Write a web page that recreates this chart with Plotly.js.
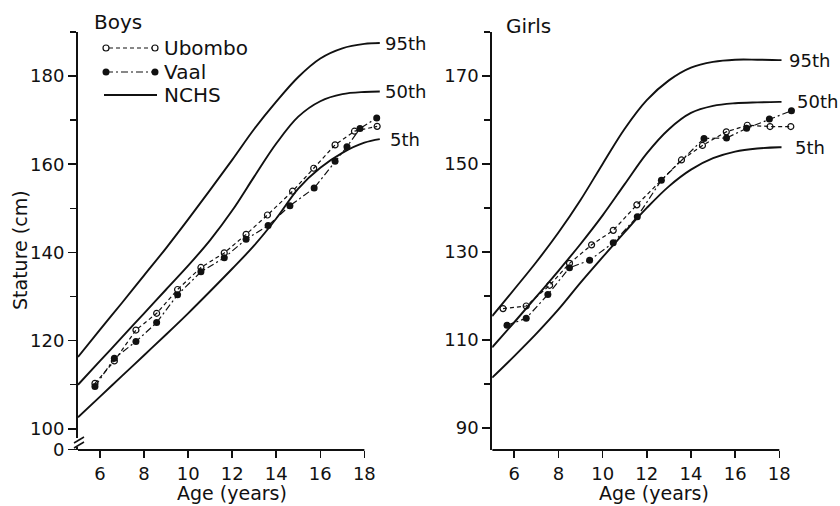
<!DOCTYPE html>
<html>
<head>
<meta charset="utf-8">
<script src="https://cdn.plot.ly/plotly-3.0.1.min.js"></script>
<style>
  html, body { margin: 0; padding: 0; background: #fff; }
  #chart { width: 840px; height: 506px; }
</style>
</head>
<body>
<div id="chart"></div>
<script>
// NCHS reference percentiles (stature, cm) by age (years)
const nchsBoysAge = [5, 6, 7, 8, 9, 10, 11, 12, 13, 14, 15, 16, 17, 18, 18.7];
const nchsBoys95 = [116.3, 122.5, 128.6, 134.8, 141.0, 147.5, 154.2, 161.0, 168.0, 174.2, 179.8, 184.0, 186.3, 187.3, 187.5];
const nchsBoys50 = [110.0, 115.4, 120.8, 126.2, 131.6, 137.0, 142.8, 149.5, 157.2, 164.7, 170.8, 174.3, 175.9, 176.4, 176.5];
const nchsBoys5 = [102.6, 107.3, 112.0, 116.7, 121.4, 126.2, 131.2, 136.3, 141.6, 147.7, 154.5, 159.2, 162.6, 164.9, 165.7];

const nchsGirlsAge = [5, 6, 7, 8, 9, 10, 11, 12, 13, 14, 15, 16, 17, 18, 18.1];
const nchsGirls95 = [115.4, 121.5, 127.7, 134.4, 141.8, 150.0, 158.0, 164.5, 169.0, 171.9, 173.2, 173.7, 173.7, 173.6, 173.6];
const nchsGirls50 = [108.3, 114.0, 119.8, 125.7, 131.8, 138.3, 145.4, 152.4, 157.9, 161.6, 163.2, 163.8, 164.0, 164.1, 164.1];
const nchsGirls5 = [101.4, 106.3, 111.4, 116.9, 123.0, 128.8, 134.5, 140.0, 144.9, 148.7, 151.3, 152.8, 153.5, 153.8, 153.8];

// Survey means: Ubombo and Vaal
const ubomboBoysAge = [5.77, 6.65, 7.63, 8.57, 9.52, 10.58, 11.64, 12.63, 13.6, 14.74, 15.7, 16.67, 17.55, 18.58];
const ubomboBoys = [110.3, 115.4, 122.4, 126.2, 131.6, 136.6, 139.9, 144.1, 148.5, 153.9, 159.1, 164.4, 167.5, 168.6];
const vaalBoysAge = [5.77, 6.65, 7.63, 8.57, 9.52, 10.58, 11.64, 12.63, 13.63, 14.62, 15.72, 16.67, 17.21, 17.8, 18.56];
const vaalBoys = [109.6, 116.0, 119.8, 124.1, 130.4, 135.6, 138.8, 143.0, 146.1, 150.6, 154.6, 160.7, 164.0, 168.1, 170.5];

const ubomboGirlsAge = [5.49, 6.54, 7.6, 8.5, 9.5, 10.48, 11.55, 13.57, 14.52, 15.6, 16.55, 17.58, 18.52];
const ubomboGirls = [117.1, 117.7, 122.4, 127.4, 131.6, 134.9, 140.7, 150.9, 154.2, 157.3, 158.8, 158.5, 158.5];
const vaalGirlsAge = [5.67, 6.54, 7.52, 8.5, 9.41, 10.48, 11.57, 12.66, 14.59, 15.61, 16.52, 17.55, 18.55];
const vaalGirls = [113.3, 114.9, 120.3, 126.4, 128.1, 132.1, 138.0, 146.3, 155.8, 155.9, 158.1, 160.2, 162.1];

const percentileLabels = ['95th', '50th', '5th'];
const ageTicks = [6, 8, 10, 12, 14, 16, 18];
const boysTicks = [95.3, 100, 120, 140, 160, 180];
const boysTickText = ['0', '100', '120', '140', '160', '180'];
const girlsTicks = [90, 110, 130, 150, 170];

const W = 840, H = 506;
const FONT = 'DejaVu Sans, Arial, sans-serif';
const px = v => v / W;
const py = v => 1 - v / H;

function nchs(x, y, xa, ya) {
  return { x: x, y: y, xaxis: xa, yaxis: ya, mode: 'lines', showlegend: false,
    hoverinfo: 'skip', line: { color: '#111', width: 1.9, shape: 'spline', smoothing: 1 } };
}
function ubombo(x, y, xa, ya) {
  return { x: x, y: y, xaxis: xa, yaxis: ya, mode: 'lines+markers', showlegend: false,
    line: { color: '#111', width: 1.2, dash: '4px,3px' },
    marker: { symbol: 'circle-open', size: 6, color: '#111', line: { width: 1.2 } } };
}
function vaal(x, y, xa, ya) {
  return { x: x, y: y, xaxis: xa, yaxis: ya, mode: 'lines+markers', showlegend: false,
    line: { color: '#111', width: 1.2, dash: '7px,3px,2px,3px' },
    marker: { symbol: 'circle', size: 7, color: '#111' } };
}

const data = [
  nchs(nchsBoysAge, nchsBoys95, 'x', 'y'),
  nchs(nchsBoysAge, nchsBoys50, 'x', 'y'),
  nchs(nchsBoysAge, nchsBoys5, 'x', 'y'),
  ubombo(ubomboBoysAge, ubomboBoys, 'x', 'y'),
  vaal(vaalBoysAge, vaalBoys, 'x', 'y'),
  nchs(nchsGirlsAge, nchsGirls95, 'x2', 'y2'),
  nchs(nchsGirlsAge, nchsGirls50, 'x2', 'y2'),
  nchs(nchsGirlsAge, nchsGirls5, 'x2', 'y2'),
  ubombo(ubomboGirlsAge, ubomboGirls, 'x2', 'y2'),
  vaal(vaalGirlsAge, vaalGirls, 'x2', 'y2')
];

const tickFont = { family: FONT, size: 18, color: '#111' };
function xAxis(dom, anchor) {
  return { domain: dom, anchor: anchor, range: [5, 19], tickmode: 'array', tickvals: ageTicks,
    ticks: 'outside', ticklen: 7, tickwidth: 1.6, tickcolor: '#111', showline: false,
    showgrid: false, zeroline: false, tickfont: tickFont, automargin: false, fixedrange: true };
}
function yAxis(range, vals, text, anchor) {
  return { domain: [py(450), py(32)], anchor: anchor, range: range, tickmode: 'array',
    tickvals: vals, ticktext: text, ticks: 'outside', ticklen: 8, tickwidth: 1.6, tickcolor: '#111',
    minor: { dtick: 10, tick0: 0, ticks: 'outside', ticklen: 6, tickwidth: 1.4, tickcolor: '#111' },
    showline: true, linewidth: 2, linecolor: '#111', showgrid: false, zeroline: false,
    tickfont: tickFont, automargin: false, fixedrange: true };
}

const ann = [];
function label(text, x, y, opts) {
  ann.push(Object.assign({ text: text, x: x, y: y, xref: 'paper', yref: 'paper', showarrow: false,
    xanchor: 'left', yanchor: 'middle', font: { family: FONT, size: 20, color: '#111' } }, opts || {}));
}
label('Boys', px(92), py(22));
label('Girls', px(504), py(26));
label('Stature (cm)', px(20), py(250), { xanchor: 'center', textangle: -90, font: { family: FONT, size: 19, color: '#111' } });
label('Age (years)', px(232), py(493), { xanchor: 'center', font: { family: FONT, size: 19, color: '#111' } });
label('Age (years)', px(654), py(493), { xanchor: 'center', font: { family: FONT, size: 19, color: '#111' } });
label('Ubombo', px(162), py(48));
label('Vaal', px(162), py(72));
label('NCHS', px(162), py(95));

// percentile names placed at the end of each NCHS curve
const boysSets = [nchsBoys95, nchsBoys50, nchsBoys5];
const girlsSets = [nchsGirls95, nchsGirls50, nchsGirls5];
const boysShift = [3, 3, 8];
const girlsShift = [5, 13, 11];
percentileLabels.forEach((t, i) => {
  ann.push({ text: t, x: nchsBoysAge[nchsBoysAge.length - 1], y: boysSets[i][boysSets[i].length - 1],
    xref: 'x', yref: 'y', xanchor: 'left', yanchor: 'middle', xshift: boysShift[i], showarrow: false,
    font: { family: FONT, size: 18, color: '#111' } });
  ann.push({ text: t, x: nchsGirlsAge[nchsGirlsAge.length - 1], y: girlsSets[i][girlsSets[i].length - 1],
    xref: 'x2', yref: 'y2', xanchor: 'left', yanchor: 'middle', xshift: girlsShift[i], showarrow: false,
    font: { family: FONT, size: 18, color: '#111' } });
});

const shapes = [
  // x axis baselines running from age 5 to 18
  { type: 'line', xref: 'x', yref: 'paper', x0: 5, x1: 18, y0: py(450), y1: py(450), line: { color: '#111', width: 2 } },
  { type: 'line', xref: 'x2', yref: 'paper', x0: 5, x1: 18, y0: py(450), y1: py(450), line: { color: '#111', width: 2 } },
  // axis break on the boys' stature scale
  { type: 'rect', xref: 'paper', yref: 'paper', x0: px(74), x1: px(84), y0: py(447), y1: py(438), fillcolor: '#fff', line: { width: 0 } },
  { type: 'line', xref: 'paper', yref: 'paper', x0: px(74), x1: px(84), y0: py(443), y1: py(437), line: { color: '#111', width: 1.5 } },
  { type: 'line', xref: 'paper', yref: 'paper', x0: px(74), x1: px(84), y0: py(448), y1: py(442), line: { color: '#111', width: 1.5 } },
  // legend keys
  { type: 'line', xref: 'paper', yref: 'paper', x0: px(109), x1: px(152), y0: py(48), y1: py(48), line: { color: '#111', width: 1.2, dash: '4px,3px' } },
  { type: 'circle', xref: 'paper', yref: 'paper', x0: px(103), x1: px(109), y0: py(51), y1: py(45), line: { color: '#111', width: 1.2 }, fillcolor: '#fff' },
  { type: 'circle', xref: 'paper', yref: 'paper', x0: px(152), x1: px(158), y0: py(51), y1: py(45), line: { color: '#111', width: 1.2 }, fillcolor: '#fff' },
  { type: 'line', xref: 'paper', yref: 'paper', x0: px(106), x1: px(155), y0: py(72), y1: py(72), line: { color: '#111', width: 1.2, dash: '7px,3px,2px,3px' } },
  { type: 'circle', xref: 'paper', yref: 'paper', x0: px(102.5), x1: px(109.5), y0: py(75.5), y1: py(68.5), line: { color: '#111', width: 0 }, fillcolor: '#111' },
  { type: 'circle', xref: 'paper', yref: 'paper', x0: px(151.5), x1: px(158.5), y0: py(75.5), y1: py(68.5), line: { color: '#111', width: 0 }, fillcolor: '#111' },
  { type: 'line', xref: 'paper', yref: 'paper', x0: px(104), x1: px(157), y0: py(95), y1: py(95), line: { color: '#111', width: 1.9 } }
];

const layout = {
  width: W, height: H,
  margin: { l: 0, r: 0, t: 0, b: 0 },
  paper_bgcolor: '#fff', plot_bgcolor: '#fff',
  showlegend: false,
  xaxis: xAxis([px(78), px(386.4)], 'y'),
  yaxis: yAxis([95.2, 190], boysTicks, boysTickText, 'x'),
  xaxis2: xAxis([px(492.2), px(801.4)], 'y2'),
  yaxis2: yAxis([84.95, 180], girlsTicks, girlsTicks.map(String), 'x2'),
  annotations: ann,
  shapes: shapes
};

Plotly.newPlot('chart', data, layout, { staticPlot: true, displayModeBar: false });
</script>
</body>
</html>
